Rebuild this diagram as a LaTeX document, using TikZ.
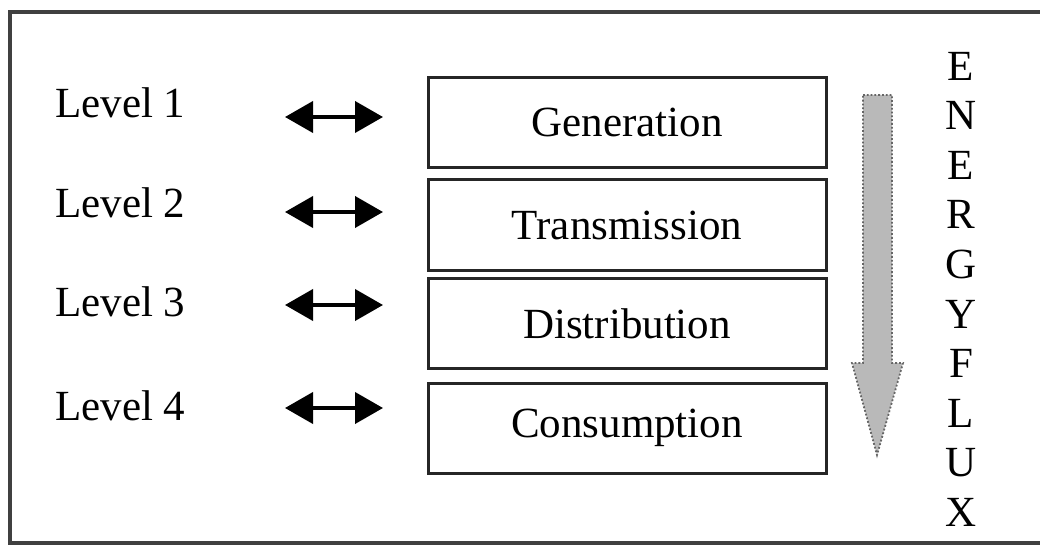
\documentclass[tikz,border=0pt]{standalone}
\usepackage{fontspec}
\setmainfont{Liberation Serif}
\usetikzlibrary{arrows.meta}

\tikzset{
  levelbox/.style={draw=black!85, line width=3pt, minimum width=398pt, minimum height=90pt, inner sep=0pt},
  levellabel/.style={anchor=west, inner sep=0pt},
  linkarrow/.style={{Triangle[length=28pt,width=31pt]}-{Triangle[length=28pt,width=31pt]}, line width=4pt},
  fluxletter/.style={inner sep=0pt}
}

\begin{document}
\begin{tikzpicture}[x=1pt,y=-1pt]
\useasboundingbox (0,0) rectangle (1040,545);
\fontsize{43}{49}\selectfont
% outer frame, open on the right
\begin{scope}
\clip (0,0) rectangle (1040,545);
\draw[black!75, line width=4pt] (10,12) rectangle (1080,543);
\end{scope}
% the four stages
\node[levelbox] (gen) at (627,122.5) {Generation};
\node[levelbox] (trans) at (627,225) {Transmission};
\node[levelbox] (dist) at (627,323.5) {Distribution};
\node[levelbox] (cons) at (627,428) {Consumption};
% level labels
\node[levellabel] (l1) at (55,103) {Level 1};
\node[levellabel] (l2) at (55,203) {Level 2};
\node[levellabel] (l3) at (55,302) {Level 3};
\node[levellabel] (l4) at (55,406) {Level 4};
% double arrows between labels and boxes
\foreach \i/\y in {1/117, 2/212, 3/305, 4/408} {
  \coordinate (a\i) at (285,\y);
  \coordinate (b\i) at (383,\y);
  \draw[linkarrow] (a\i) -- (b\i);
}
% energy flow arrow
\fill[gray!55] (863,95) -- (892,95) -- (892,363) -- (903,363) -- (877,455)
  -- (852,363) -- (863,363) -- cycle;
\draw[black!60, line width=1.8pt, dotted] (863,95) -- (892,95) -- (892,363) -- (903,363)
  -- (877,455) -- (852,363) -- (863,363) -- cycle;
% vertical caption
\foreach \c [count=\k from 0] in {E,N,E,R,G,Y,F,L,U,X} {
  \node[fluxletter] (f\k) at (961,66+49.6*\k) {\c};
}
\end{tikzpicture}
\end{document}
